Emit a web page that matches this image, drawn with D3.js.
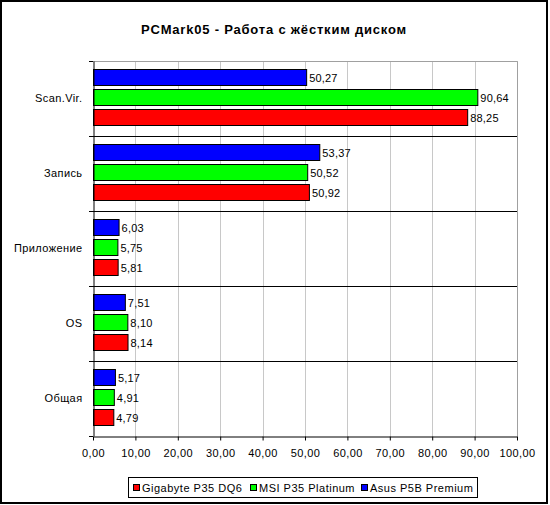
<!DOCTYPE html>
<html>
<head>
<meta charset="utf-8">
<script src="https://cdn.jsdelivr.net/npm/d3@7"></script>
<style>
  body { margin: 0; background: #fff; }
  svg { display: block; font-family: "Liberation Sans", Arial, sans-serif; }
</style>
</head>
<body>
<svg width="550" height="505"></svg>
<script>
// data
const categories = ['Scan.Vir.', 'Запись', 'Приложение', 'OS', 'Общая']
const seriesNames = ['Gigabyte P35 DQ6', 'MSI P35 Platinum', 'Asus P5B Premium']
const gigabyte = [88.25, 50.92, 5.81, 8.14, 4.79]
const msi = [90.64, 50.52, 5.75, 8.10, 4.91]
const asus = [50.27, 53.37, 6.03, 7.51, 5.17]
const xTicks = [0, 10, 20, 30, 40, 50, 60, 70, 80, 90, 100]
const colors = ['#ff0000', '#00ff00', '#0000ff']

const svg = d3.select('svg')
const fmt = v => d3.format('.2f')(v).replace('.', ',')

// outer frame
svg.append('rect')
   .attr('x', 1).attr('y', 1)
   .attr('width', 546).attr('height', 502)
   .attr('fill', '#fff').attr('stroke', '#000').attr('stroke-width', 2)

svg.append('text')
   .attr('x', 274).attr('y', 34)
   .attr('text-anchor', 'middle')
   .attr('font-size', 13).attr('font-weight', 'bold')
   .attr('letter-spacing', 0.8)
   .text('PCMark05 - Работа с жёстким диском')

const pLeft = 93, pRight = 517, pTop = 61, pBottom = 436

const x = d3.scaleLinear().domain([0, 100]).range([pLeft, pRight])
const y = d3.scaleBand().domain(categories).range([pTop, pBottom])
// series inside each band, drawn top-down: asus, msi, gigabyte
const inner = d3.scaleBand().domain([2, 1, 0])
   .range([0, y.bandwidth()]).paddingInner(0.2).paddingOuter(0.475).align(0.44)

// gridlines
svg.append('g').selectAll('line')
   .data(xTicks.slice(1))
   .join('line')
   .attr('x1', d => Math.round(x(d)) + 0.5).attr('x2', d => Math.round(x(d)) + 0.5)
   .attr('y1', pTop).attr('y2', pBottom)
   .attr('stroke', '#c8c8c8')

// plot border top/right
svg.append('path')
   .attr('d', `M${pLeft},${pTop + 0.5}H${pRight + 0.5}V${pBottom}`)
   .attr('fill', 'none').attr('stroke', '#a0a0a0')

// category separators
const seps = categories.slice(1).map(c => Math.round(y(c)) + 0.5)
svg.append('g').selectAll('line')
   .data(seps)
   .join('line')
   .attr('x1', pLeft - 4).attr('x2', pRight)
   .attr('y1', d => d).attr('y2', d => d)
   .attr('stroke', '#000')

const series = [gigabyte, msi, asus]
series.forEach((vals, s) => {
   const g = svg.append('g')
   g.selectAll('rect')
      .data(vals)
      .join('rect')
      .attr('x', pLeft + 0.5)
      .attr('y', (d, i) => Math.round(y(categories[i]) + inner(s)) + 0.5)
      .attr('width', d => x(d) - pLeft)
      .attr('height', Math.round(inner.bandwidth()))
      .attr('fill', colors[s])
      .attr('stroke', '#000')
   g.selectAll('text')
      .data(vals)
      .join('text')
      .attr('x', d => x(d) + 3)
      .attr('y', (d, i) => y(categories[i]) + inner(s) + inner.bandwidth() / 2 + 4.5)
      .attr('font-size', 11)
      .attr('letter-spacing', 0.2)
      .text(d => fmt(d))
})

// y axis
const yAxis = svg.append('g')
   .attr('transform', `translate(${pLeft + 0.5},0)`)
   .call(d3.axisLeft(y).tickSize(0).tickPadding(11))
yAxis.select('.domain').attr('stroke', '#000')
yAxis.selectAll('text').attr('font-size', 11).attr('font-family', 'inherit')
   .attr('fill', '#000').attr('letter-spacing', 0.4)
svg.append('line').attr('x1', pLeft - 4).attr('x2', pLeft)
   .attr('y1', pTop + 0.5).attr('y2', pTop + 0.5).attr('stroke', '#000')
svg.append('line').attr('x1', pLeft - 4).attr('x2', pLeft)
   .attr('y1', pBottom + 0.5).attr('y2', pBottom + 0.5).attr('stroke', '#000')

// x axis
const xAxis = svg.append('g')
   .attr('transform', `translate(0,${pBottom + 0.5})`)
   .call(d3.axisBottom(x).tickValues(xTicks).tickFormat(fmt).tickSize(4).tickSizeOuter(0).tickPadding(9))
xAxis.select('.domain').attr('stroke', '#000')
xAxis.selectAll('line').attr('stroke', '#000')
xAxis.selectAll('text').attr('font-size', 11).attr('font-family', 'inherit')
   .attr('fill', '#000').attr('letter-spacing', 0.4)

// legend
const legend = svg.append('g')
legend.append('rect')
   .attr('x', 128.5).attr('y', 477.5).attr('width', 349).attr('height', 20)
   .attr('fill', '#fff').attr('stroke', '#000')
const legX = [133, 250, 361]
seriesNames.forEach((n, i) => {
   legend.append('rect')
      .attr('x', legX[i] + 0.5).attr('y', 484.5).attr('width', 6).attr('height', 6)
      .attr('fill', colors[i]).attr('stroke', '#000')
   legend.append('text')
      .attr('x', legX[i] + 9).attr('y', 491.5)
      .attr('font-size', 11)
      .attr('letter-spacing', 0.5)
      .text(n)
})
</script>
</body>
</html>
